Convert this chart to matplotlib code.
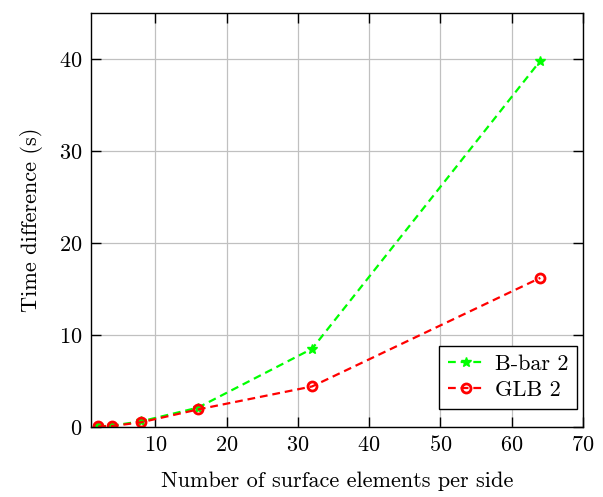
import matplotlib
matplotlib.use("Agg")
import matplotlib.pyplot as plt

# Datos de los tiempos
elementos = [2, 4, 8, 16, 32, 64]
bbar2 = [0.05, 0.15, 0.6, 2.1, 8.5, 39.8]
glb2 = [0.05, 0.1, 0.5, 1.9, 4.4, 16.2]

plt.rcParams['font.family'] = 'cmr10'
plt.rcParams['mathtext.fontset'] = 'cm'
plt.rcParams['axes.formatter.use_mathtext'] = True
plt.rcParams['font.size'] = 16

fig = plt.figure(figsize=(6.03, 4.97), dpi=100)
ax = fig.add_axes([0.151, 0.141, 0.816, 0.833])

ax.plot(elementos, bbar2, color='#00ff00', linestyle=(0, (3.5, 2.2)), marker='*',
        markersize=7, linewidth=1.6, label='B-bar 2')
ax.plot(elementos, glb2, color='red', linestyle=(0, (3.5, 2.2)), marker='o',
        markersize=6.5, markerfacecolor='none', markeredgewidth=2.0,
        linewidth=1.6, label='GLB 2')

ax.set_xlim(1, 70)
ax.set_ylim(0, 45)
ax.set_xticks([10, 20, 30, 40, 50, 60, 70])
ax.set_yticks([0, 10, 20, 30, 40])
ax.grid(True, color='#c0c0c0', linewidth=0.9)
ax.tick_params(direction='in', top=True, right=True, length=7, width=1.0, pad=6)
for s in ax.spines.values():
    s.set_linewidth(1.0)

ax.set_xlabel('Number of surface elements per side', labelpad=12)
ax.set_ylabel('Time difference (s)', labelpad=12)
leg = ax.legend(loc='lower right', bbox_to_anchor=(0.988, 0.043),
                fancybox=False, edgecolor='black', framealpha=1,
                handlelength=1.6, handletextpad=0.5, borderaxespad=0,
                borderpad=0.4, labelspacing=0.3)
leg.get_frame().set_linewidth(1.0)

fig.savefig('out.png', dpi=100)
